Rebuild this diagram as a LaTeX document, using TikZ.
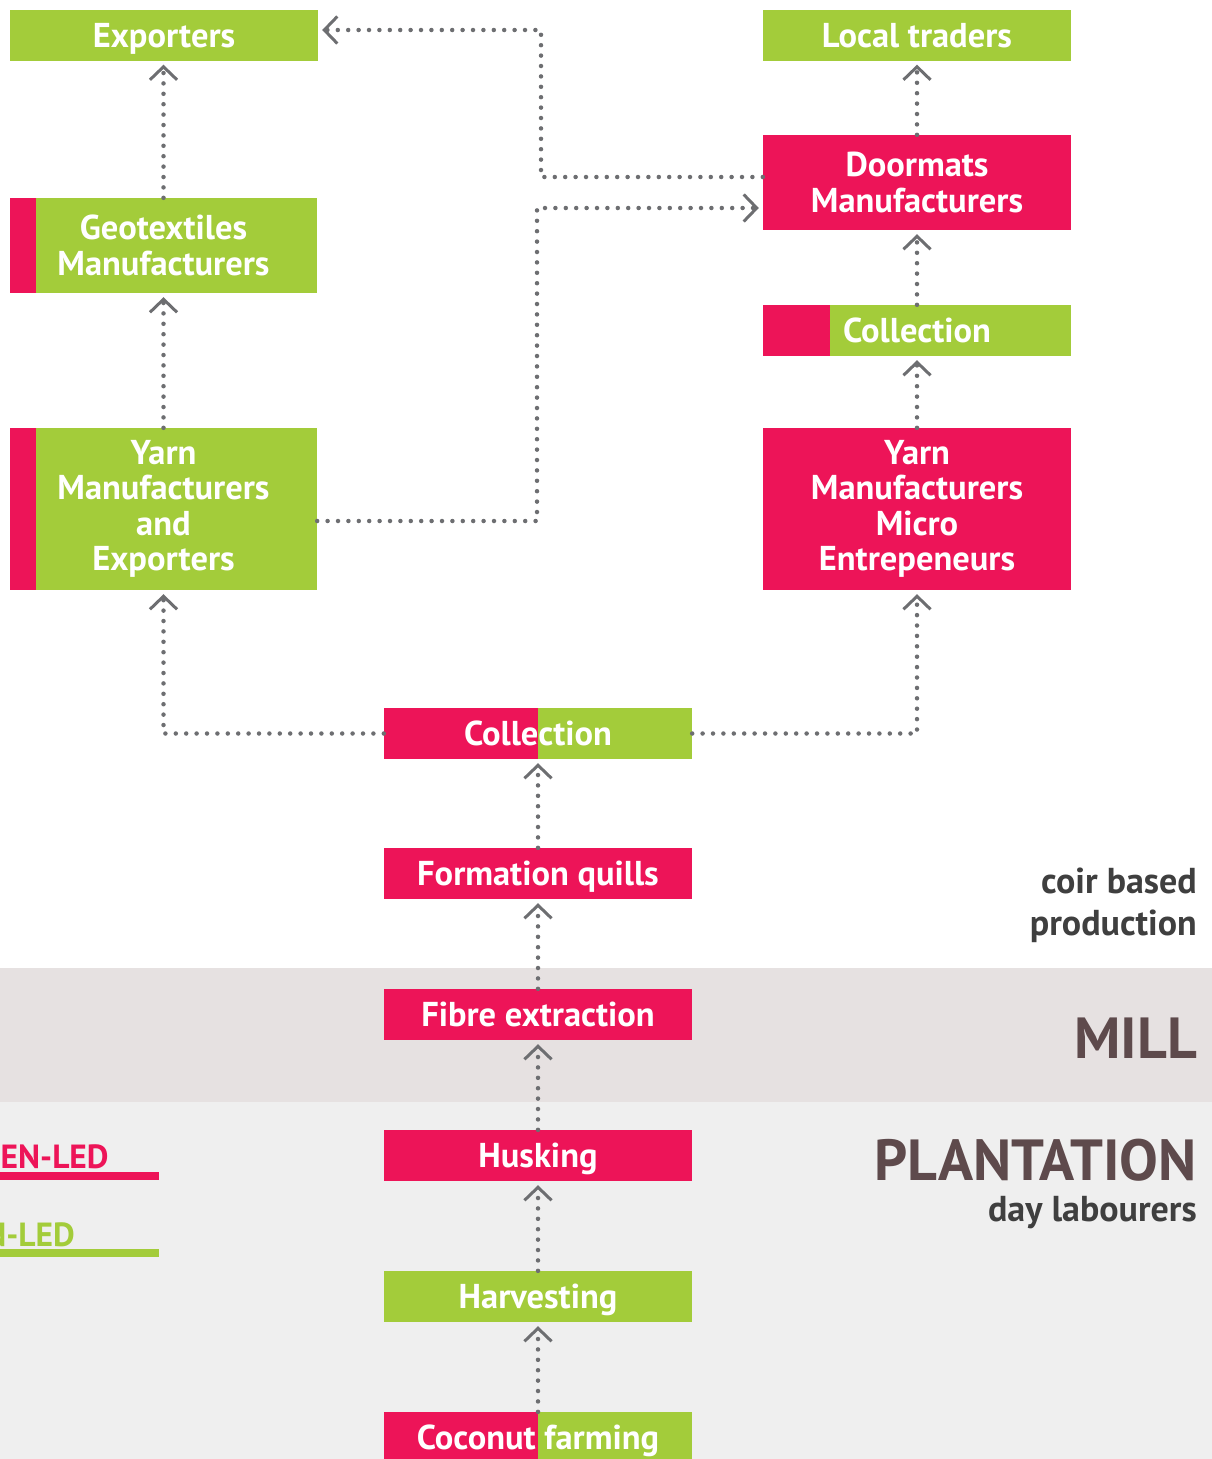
\documentclass[tikz,border=0pt]{standalone}
\usepackage{fontspec}
\setmainfont{PT Sans}
\usetikzlibrary{arrows.meta}
\definecolor{cpink}{HTML}{ED1458}
\definecolor{cgreen}{HTML}{A3CC3A}
\definecolor{cgrey}{HTML}{6D6E71}
\definecolor{cmill}{HTML}{E6E1E1}
\definecolor{cplant}{HTML}{EFEFEF}
\definecolor{ctxt}{HTML}{3F3F3F}
\definecolor{cband}{HTML}{5E4A4C}
\newcommand\capc[1]{\raisebox{0pt}[0.7em][0pt]{#1}}
\tikzset{
  box/.style={minimum width=308pt, minimum height=51pt, inner sep=0pt, text=white, align=center,
    font=\fontsize{34.5}{35.5}\selectfont\bfseries},
  gbox/.style={box, fill=cgreen},
  pbox/.style={box, fill=cpink},
  leftstrip/.style={gbox, path picture={\fill[cpink] (path picture bounding box.south west) rectangle ([xshift=#1]path picture bounding box.north west);}},
  conn/.style={draw=cgrey, line width=4.5pt, line cap=round, dash pattern=on 0pt off 10.4pt,
    -{Straight Barb[length=13pt,width=27pt,line width=3pt]}, shorten >=4pt},
  side/.style={font=\fontsize{36}{43}\selectfont\bfseries, text=ctxt, inner sep=0pt, align=right},
  big/.style={font=\fontsize{58}{60}\selectfont\bfseries, text=cband, inner sep=0pt},
  legend/.style={font=\fontsize{33.5}{36}\selectfont\bfseries, inner sep=0pt},
}
\begin{document}
\begin{tikzpicture}[x=1pt,y=-1pt]
\useasboundingbox (0,0) rectangle (1212,1459);
\begin{scope}
\clip (0,0) rectangle (1212,1459);
% bands
\fill[cmill] (0,968) rectangle (1212,1102);
\fill[cplant] (0,1102) rectangle (1212,1459);
% boxes
\node[gbox] (exp) at (164,35) {\capc{Exporters}};
\node[gbox] (loc) at (917,35) {\capc{Local traders}};
\node[pbox, minimum height=95pt] (door) at (917,182.5) {Doormats\\Manufacturers};
\node[leftstrip=26pt, minimum width=307pt, minimum height=95pt] (geo) at (163.5,245.5) {Geotextiles\\Manufacturers};
\node[leftstrip=67pt] (colr) at (917,330.5) {\capc{Collection}};
\node[leftstrip=26pt, minimum width=307pt, minimum height=162pt] (yme) at (163.5,509) {Yarn\\Manufacturers\\and\\Exporters};
\node[pbox, minimum height=162pt] (ymm) at (917,509) {Yarn\\Manufacturers\\Micro\\Entrepeneurs};
\node[leftstrip=154pt] (colm) at (538,733.5) {\capc{Collection}};
\node[pbox] (form) at (538,873.5) {\capc{Formation quills}};
\node[pbox] (fibre) at (538,1014.5) {\capc{Fibre extraction}};
\node[pbox] (husk) at (538,1155.5) {\capc{Husking}};
\node[gbox] (harv) at (538,1296.5) {\capc{Harvesting}};
\node[leftstrip=154pt] (coco) at (538,1437.5) {\capc{Coconut farming}};
% connectors
\draw[conn] (geo.north) -- (geo.north |- exp.south);
\draw[conn] (yme.north) -- (yme.north |- geo.south);
\draw[conn] (colm.west) -| (yme.south);
\draw[conn] (colm.east) -| (ymm.south);
\draw[conn] (ymm.north) -- (colr.south);
\draw[conn] (colr.north) -- (door.south);
\draw[conn] (door.north) -- (loc.south);
\coordinate (k1) at (541,0);
\coordinate (k2) at (537,0);
\draw[conn] ([yshift=5.5pt]door.west) -- ([yshift=5.5pt]door.west -| k1) |- ([yshift=5pt]exp.east);
\draw[conn] ([yshift=-12pt]yme.east) -- ([yshift=-12pt]yme.east -| k2) |- ([yshift=-25.5pt]door.west);
\draw[conn] (form.north) -- (colm.south);
\draw[conn] (fibre.north) -- (form.south);
\draw[conn] (husk.north) -- (fibre.south);
\draw[conn] (harv.north) -- (husk.south);
\draw[conn] (coco.north) -- (harv.south);
% side texts
\node[side, anchor=base east] (coir) at (1197,893) {coir based};
\node[side, anchor=base east] (prod) at (1197,935) {production};
\node[big, anchor=base east] (mill) at (1197,1058) {MILL};
\node[big, anchor=base east] (plant) at (1197,1180) {PLANTATION};
\node[side, anchor=base east] (day) at (1197,1221) {day labourers};
% legend
\fill[cpink] (0,1172) rectangle (159,1180);
\fill[cgreen] (0,1249) rectangle (159,1257);
\node[legend, text=cpink, anchor=base west] (wl) at (0.5,1168) {EN-LED};
\node[legend, text=cgreen, anchor=base east] (ml) at (75,1246) {N-LED};
\end{scope}
\end{tikzpicture}
\end{document}
